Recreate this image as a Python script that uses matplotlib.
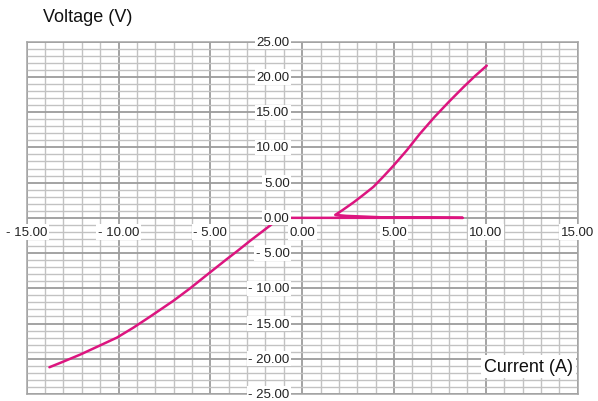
import matplotlib.pyplot as plt
from matplotlib.ticker import MultipleLocator

plt.rcParams['font.family'] = ['Liberation Sans', 'DejaVu Sans']

# measured I-V sweep: current (A) vs voltage (V)
current = [-13.76, -13.0, -12.08, -11.0, -10.09, -9.2, -8.27, -7.0, -6.1,
           -5.19, -4.1, -3.55, -2.83, -1.74, -1.45, -1.1,
           8.75, 4.5, 2.4, 1.8,
           2.2, 2.8, 3.3, 3.88, 4.4, 4.97, 5.7, 6.4, 7.2, 8.0, 8.8, 9.4, 10.05]
voltage = [-21.2, -20.4, -19.4, -18.1, -17.0, -15.6, -14.0, -11.75, -10.0,
           -8.1, -5.85, -4.75, -3.25, -1.08, -0.45, 0.0,
           0.0, 0.06, 0.28, 0.42,
           1.1, 2.2, 3.2, 4.4, 5.8, 7.4, 9.6, 11.9, 14.3, 16.5, 18.6, 20.1, 21.6]

x_ticks = [-15, -10, -5, 0, 5, 10, 15]
y_ticks = [25, 20, 15, 10, 5, 0, -5, -10, -15, -20, -25]


def fmt(v):
    return f"- {abs(v):.2f}" if v < 0 else f"{v:.2f}"


fig = plt.figure(figsize=(5.98, 4.02), dpi=100)
ax = fig.add_axes([0.0446, 0.0174, 0.9214, 0.8764])
ax.set_xlim(-15, 15)
ax.set_ylim(-25, 25)

ax.xaxis.set_major_locator(MultipleLocator(5))
ax.xaxis.set_minor_locator(MultipleLocator(1))
ax.yaxis.set_major_locator(MultipleLocator(5))
ax.yaxis.set_minor_locator(MultipleLocator(1))
ax.grid(which='minor', color='#c2c2c2', linewidth=1.0)
ax.grid(which='major', color='#9c9c9c', linewidth=1.3)
ax.set_axisbelow(True)
ax.tick_params(which='both', length=0, labelbottom=False, labelleft=False)
for s in ax.spines.values():
    s.set_color('#a4a4a4')
    s.set_linewidth(1.1)

ax.plot(current, voltage, color='#dc157f', linewidth=1.8,
        solid_joinstyle='round', solid_capstyle='round', zorder=3)

box = dict(boxstyle='square,pad=0.12', fc='white', ec='none')
for v in x_ticks:
    ax.text(v, -2, fmt(v), ha='center', va='center', fontsize=9.5,
            color='#222222', bbox=box, zorder=4)
for v in y_ticks:
    ax.annotate(fmt(v), xy=(0, v), xytext=(-9, 0), textcoords='offset points',
                ha='right', va='center', fontsize=9.5, color='#222222',
                bbox=box, zorder=4, annotation_clip=False)

fig.text(43 / 598, 1 - 17 / 402, 'Voltage (V)', ha='left', va='center',
         fontsize=13, color='#111111')
ax.text(14.75, -21.1, 'Current (A)', ha='right', va='center', fontsize=13,
        color='#111111', bbox=dict(boxstyle='square,pad=0.15', fc='white', ec='none'),
        zorder=4)

fig.savefig('out.png', dpi=100)
